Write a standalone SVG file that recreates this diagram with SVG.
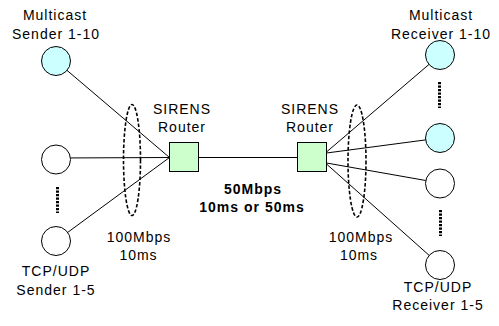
<svg xmlns="http://www.w3.org/2000/svg" width="499" height="326" viewBox="0 0 499 326">
<style>
text{font-family:"Liberation Sans",Arial,sans-serif;font-size:14px;letter-spacing:1px;fill:#000;text-anchor:middle}
.b{font-weight:bold}
.ln{stroke:#000;stroke-width:1;fill:none}
.mc{fill:#ccffff;stroke:#000;stroke-width:1}
.tc{fill:#fff;stroke:#000;stroke-width:1}
.rt{fill:#ccffcc;stroke:#000;stroke-width:1}
.el{fill:none;stroke:#000;stroke-width:1.6;stroke-dasharray:3.5 2}
.dots{stroke:#000;stroke-width:3;stroke-dasharray:2.2 1.3;fill:none}
</style>
<rect width="499" height="326" fill="#fff"/>
<g id="connectors">
<line class="ln" x1="56" y1="61" x2="169.5" y2="157.5"/>
<line class="ln" x1="56" y1="158" x2="169.5" y2="157.5"/>
<line class="ln" x1="56" y1="241" x2="169.5" y2="157.5"/>
<line class="ln" x1="198.5" y1="157.5" x2="297.5" y2="157.5"/>
<line class="ln" x1="326.5" y1="152" x2="440" y2="55"/>
<line class="ln" x1="326.5" y1="153" x2="440" y2="138"/>
<line class="ln" x1="326.5" y1="163" x2="440" y2="183"/>
<line class="ln" x1="326.5" y1="164" x2="440" y2="265"/>
</g>
<g id="link-groups">
<ellipse class="el" cx="132" cy="160" rx="8.5" ry="55.5"/>
<ellipse class="el" cx="357" cy="161" rx="9" ry="56"/>
<line class="dots" x1="57.5" y1="187" x2="57.5" y2="213"/>
<line class="dots" x1="439.5" y1="82" x2="439.5" y2="108"/>
<line class="dots" x1="440.5" y1="210" x2="440.5" y2="236"/>
</g>
<g id="mcast-sender">
<circle class="mc" cx="56" cy="61" r="14.5"/>
<text x="55" y="20">Multicast</text>
<text x="56" y="39">Sender 1-10</text>
</g>
<g id="tcp-sender-1">
<circle class="tc" cx="56" cy="159.5" r="14.5"/>
</g>
<g id="tcp-sender-5">
<circle class="tc" cx="56" cy="241" r="14.5"/>
<text x="56" y="276">TCP/UDP</text>
<text x="56" y="295">Sender 1-5</text>
</g>
<g id="router-left">
<rect class="rt" x="169.5" y="142.5" width="29" height="29"/>
<text x="182" y="113.5">SIRENS</text>
<text x="182" y="132">Router</text>
</g>
<g id="router-right">
<rect class="rt" x="297.5" y="142.5" width="29" height="29"/>
<text x="310" y="113.5">SIRENS</text>
<text x="310" y="132">Router</text>
</g>
<g id="mcast-receiver-1">
<circle class="mc" cx="440" cy="55" r="14.5"/>
<text x="441" y="20">Multicast</text>
<text x="441" y="39">Receiver 1-10</text>
</g>
<g id="mcast-receiver-10">
<circle class="mc" cx="440" cy="138" r="14.5"/>
</g>
<g id="tcp-receiver-1">
<circle class="tc" cx="440" cy="183.5" r="14.5"/>
</g>
<g id="tcp-receiver-5">
<circle class="tc" cx="440" cy="265" r="14.5"/>
<text x="438" y="292">TCP/UDP</text>
<text x="438" y="310">Receiver 1-5</text>
</g>
<g id="labels">
<text class="b" x="253" y="194">50Mbps</text>
<text class="b" x="252" y="212">10ms or 50ms</text>
<text x="139" y="241.5">100Mbps</text>
<text x="138.5" y="260">10ms</text>
<text x="361" y="242">100Mbps</text>
<text x="359" y="260">10ms</text>
</g>
</svg>
